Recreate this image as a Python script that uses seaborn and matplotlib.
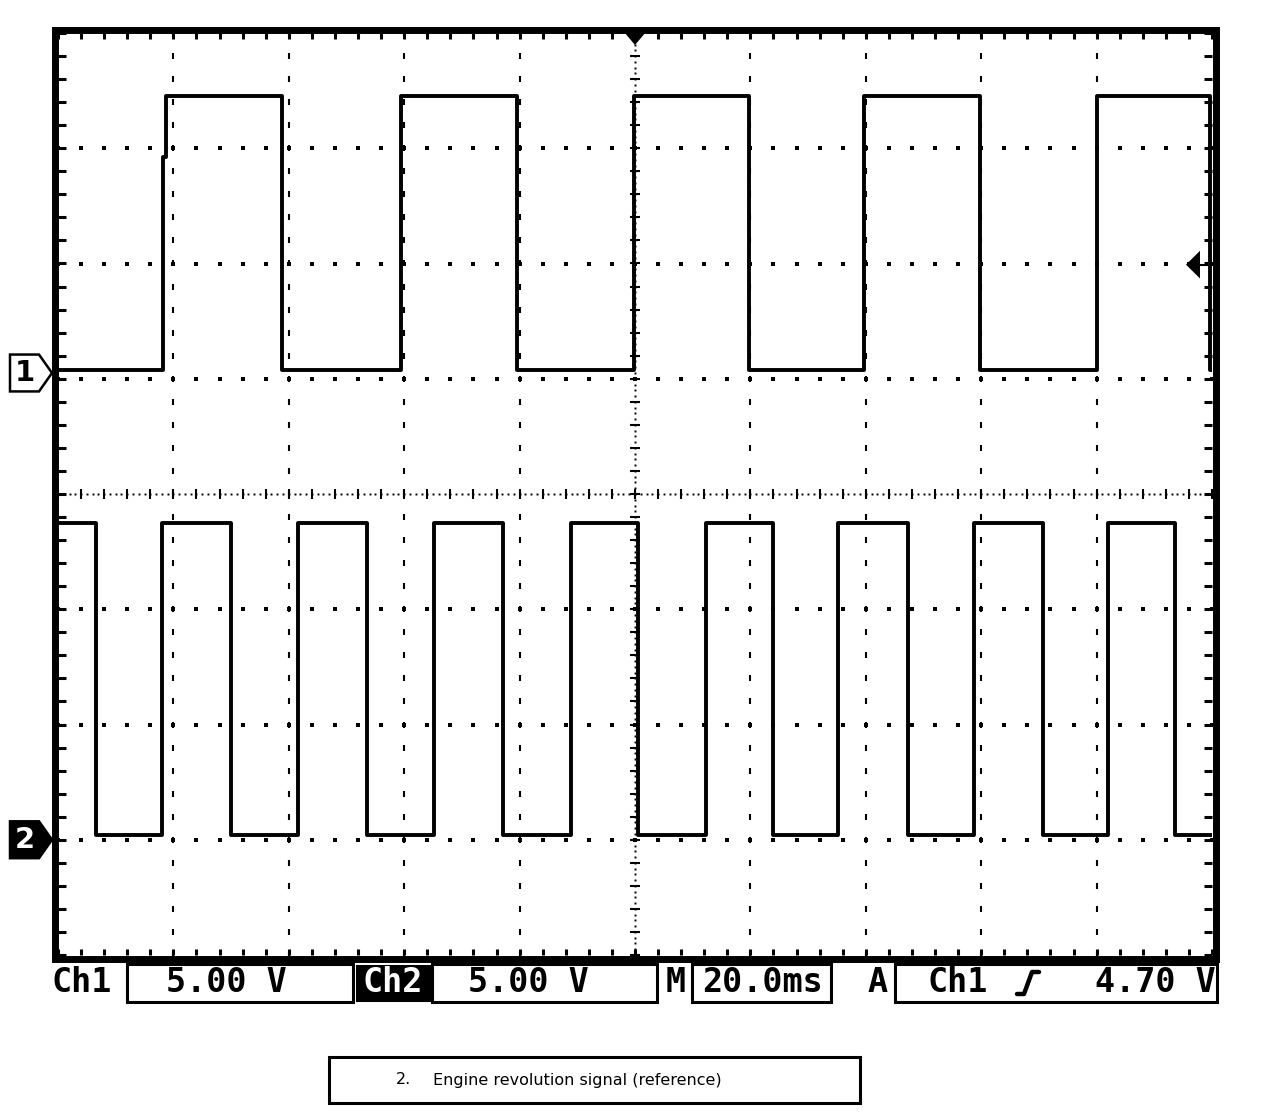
import numpy as np
import pandas as pd
import matplotlib
matplotlib.use("Agg")
import matplotlib.pyplot as plt
import matplotlib.transforms as mtrans
from matplotlib.patches import Rectangle, Polygon
import seaborn as sns

# scope settings
ms_per_div = 20.0
v_per_div = 5.0
ch1_ground = 1.05   # divisions from centre
ch2_ground = -3.0
trig_v = 4.70
trig_pos_ms = 100.0

# channel 1 - edge times (ms) and level of each segment (V)
ch1_edges = [18.2, 18.7, 38.8, 59.5, 79.6, 99.8, 119.8, 139.7, 159.8, 180.1, 199.6]
ch1_levels = [0.15, 9.35, 12.0, 0.15, 12.0, 0.15, 12.0, 0.15, 12.0, 0.15, 12.0, 0.15]

# channel 2 - engine revolution signal
ch2_edges = [6.6, 18.0, 30.0, 41.6, 53.5, 65.2, 77.1, 88.9, 100.5, 112.3,
             123.9, 135.2, 147.3, 158.8, 170.7, 182.0, 193.6]
ch2_levels = [13.75, 0.2, 13.75, 0.2, 13.75, 0.2, 13.75, 0.2, 13.75,
              0.2, 13.75, 0.2, 13.75, 0.2, 13.75, 0.2, 13.75, 0.2]

caption = "Engine revolution signal (reference)"

W, H = 1264, 1120
sns.set_style("white")
plt.rcParams['font.family'] = ['DejaVu Sans']
plt.rcParams['text.color'] = 'black'


def steps(edges, levels, ground):
    x = [0.0] + list(edges) + [10 * ms_per_div]
    y = [ground + v / v_per_div for v in levels] + [ground + levels[-1] / v_per_div]
    return pd.DataFrame({"t": x, "div": y})


def fx(px):
    return px / W


def fy(py):
    return 1 - py / H


fig = plt.figure(figsize=(W / 100, H / 100), dpi=100)
ax = fig.add_axes([fx(58), fy(955), 1154 / W, 922 / H])
ax.set_xlim(0, 10 * ms_per_div)
ax.set_ylim(-4, 4)
for s in ax.spines.values():
    s.set_visible(False)

# border ticks every 0.2 div
ax.set_xticks(np.arange(0, 200.01, ms_per_div / 5))
ax.set_yticks(np.arange(-4, 4.01, 0.2))
ax.tick_params(axis='x', direction='in', length=4, width=2.2, color='k',
               top=True, bottom=True, labelbottom=False)
ax.tick_params(axis='y', direction='in', length=6, width=2.2, color='k',
               left=True, right=True, labelleft=False)

# graticule
xs_fine = np.arange(0, 200.01, 4)
ys_fine = np.arange(-4, 4.01, 0.2)
for k in range(1, 10):
    if k == 5:
        continue
    ax.plot(np.full_like(ys_fine, k * ms_per_div), ys_fine, ls='none', marker='|',
            ms=5, mew=1.5, color='k')
for k in range(-3, 4):
    if k == 0:
        continue
    ax.plot(xs_fine, np.full_like(xs_fine, k), ls='none', marker='s', ms=2.2,
            mew=0, color='k')
# centre crosshair
xd = np.arange(0, 200.01, 1)
yd = np.arange(-4, 4.01, 0.05)
ax.plot(xd, np.zeros_like(xd), ls='none', marker='s', ms=1.4, mew=0, color='k')
ax.plot(np.full_like(yd, 100), yd, ls='none', marker='s', ms=1.4, mew=0, color='k')
ax.plot(xs_fine, np.zeros_like(xs_fine), ls='none', marker='|', ms=7, mew=1.5, color='k')
ax.plot(np.full_like(ys_fine, 100), ys_fine, ls='none', marker='_', ms=7, mew=1.5, color='k')

# traces
d1 = steps(ch1_edges, ch1_levels, ch1_ground)
d2 = steps(ch2_edges, ch2_levels, ch2_ground)
sns.lineplot(data=d1, x="t", y="div", ax=ax, color='k', lw=2.8, sort=False,
             estimator=None, drawstyle='steps-post', zorder=5)
sns.lineplot(data=d2, x="t", y="div", ax=ax, color='k', lw=2.8, sort=False,
             estimator=None, drawstyle='steps-post', zorder=5)
ax.set_xlabel("")
ax.set_ylabel("")

# frame
fig.add_artist(Rectangle((fx(54.5), fy(958.5)), (1215.5 - 54.5) / W, (958.5 - 29.5) / H,
                         transform=fig.transFigure, fill=False, lw=5, ec='k',
                         joinstyle='miter'))

# trigger level marker (right) and trigger position marker (top)
trig_div = ch1_ground + trig_v / v_per_div
mix = mtrans.blended_transform_factory(fig.transFigure, ax.transData)
fig.add_artist(Polygon([(fx(1186), trig_div), (fx(1200), trig_div + 0.12),
                        (fx(1200), trig_div - 0.12)], closed=True, transform=mix,
                       fc='k', ec='k', lw=0))
fig.add_artist(plt.Line2D([fx(1198), fx(1212)], [trig_div, trig_div], transform=mix,
                          color='k', lw=1.5))
mix2 = mtrans.blended_transform_factory(ax.transData, fig.transFigure)
fig.add_artist(Polygon([(trig_pos_ms - 1.9, fy(32)), (trig_pos_ms + 1.9, fy(32)),
                        (trig_pos_ms, fy(45))], closed=True, transform=mix2,
                       fc='k', ec='k', lw=0))

# channel ground markers
for gnd, label, dark in [(ch1_ground, "1", False), (ch2_ground, "2", True)]:
    pts = [(fx(10), gnd + 0.16), (fx(39), gnd + 0.16), (fx(52), gnd),
           (fx(39), gnd - 0.16), (fx(10), gnd - 0.16)]
    fig.add_artist(Polygon(pts, closed=True, transform=mix,
                           fc='k' if dark else 'white', ec='k', lw=1.8))
    fig.text(fx(25), gnd, label, transform=mix, ha='center', va='center',
             fontsize=21, fontweight='bold', color='white' if dark else 'k',
             family='DejaVu Sans')

# readout row
mono = 'DejaVu Sans Mono'
ty = fy(983)


def box(x0, x1, y0=964, y1=1002, filled=False):
    fig.add_artist(Rectangle((fx(x0), fy(y1)), (x1 - x0) / W, (y1 - y0) / H,
                             transform=fig.transFigure, fill=filled,
                             fc='k', ec='k', lw=2.2))


def rtext(x, s, ha='center', color='k'):
    fig.text(fx(x), ty, s, ha=ha, va='center', fontsize=24, fontweight='bold',
             family=mono, color=color)


rtext(52, "Ch1", ha='left')
box(127, 353)
rtext(226, "%.2f V" % v_per_div)
box(357, 430, 966, 1000, filled=True)
rtext(393, "Ch2", color='white')
box(432, 657)
rtext(528, "%.2f V" % v_per_div)
rtext(676, "M")
box(692, 831)
rtext(762, "%.1fms" % ms_per_div)
rtext(878, "A")
box(895, 1217)
rtext(958, "Ch1")
fig.add_artist(plt.Line2D([fx(1017), fx(1024), fx(1032), fx(1039)],
                          [fy(994), fy(994), fy(972), fy(972)],
                          transform=fig.transFigure, color='k', lw=3.2))
rtext(1155, "%.2f V" % trig_v)

# caption box
fig.add_artist(Rectangle((fx(329), fy(1103)), (860 - 329) / W, (1103 - 1057) / H,
                         transform=fig.transFigure, fill=False, ec='k', lw=2.2))
fig.text(fx(396), fy(1080), "2.", ha='left', va='center', fontsize=11.5, color='k')
fig.text(fx(433), fy(1080), caption, ha='left', va='center', fontsize=11.5, color='k')

fig.savefig("out.png", dpi=100, facecolor='white')
